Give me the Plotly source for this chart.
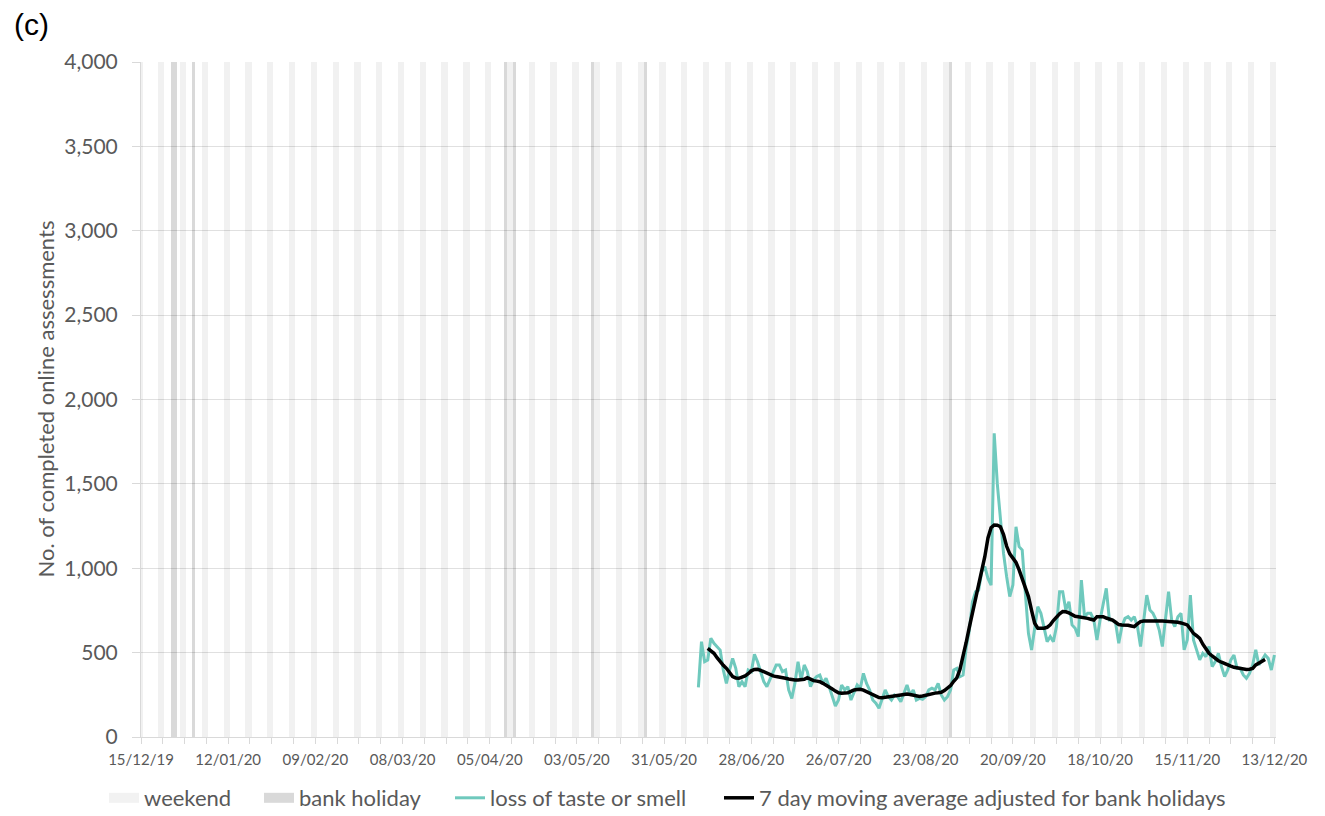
import pandas as pd
import plotly.graph_objects as go

# ---------------- data ----------------
# daily counts, 11/06/20 .. 13/12/20
taste_smell = [
    294, 565, 446, 456, 585, 555, 535, 515, 397, 318, 397, 466, 407, 298, 328, 298,
    397, 387, 490, 446, 387, 328, 298, 338, 377, 427, 427, 387, 397, 279, 229, 318,
    446, 338, 427, 387, 298, 338, 358, 367, 318, 348, 298, 239, 184, 219, 308, 279,
    298, 219, 259, 308, 289, 377, 318, 279, 219, 200, 170, 229, 279, 239, 219, 249,
    239, 209, 259, 308, 249, 279, 219, 229, 223, 239, 279, 289, 279, 318, 249, 219,
    239, 279, 397, 407, 358, 367, 530, 630, 800, 860, 870, 980, 1010, 940, 900, 1800,
    1500, 1306, 1088, 950, 832, 901, 1246, 1128, 1108, 852, 614, 516, 654, 772, 733, 654,
    565, 595, 565, 654, 861, 861, 753, 802, 664, 644, 595, 930, 713, 733, 733, 693,
    575, 693, 792, 881, 693, 693, 674, 555, 654, 703, 713, 693, 713, 654, 536, 693,
    841, 753, 733, 693, 634, 536, 693, 861, 693, 654, 713, 733, 516, 575, 841, 575,
    516, 457, 496, 476, 536, 417, 447, 496, 417, 358, 397, 457, 486, 407, 407, 368,
    348, 377, 427, 516, 427, 457, 486, 466, 397, 486,
]
taste_smell_start = "2020-06-11"

# 7 day moving average adjusted for bank holidays, 14/06/20 .. 10/12/20
moving_avg = [
    525, 510, 496, 470, 446, 425, 407, 380, 358, 350, 348, 355, 362, 375, 392, 400,
    401, 395, 387, 378, 367, 362, 358, 356, 354, 348, 344, 340, 338, 338, 340, 342,
    352, 342, 334, 331, 328, 318, 308, 298, 285, 272, 262, 259, 258, 262, 270, 279,
    281, 283, 278, 269, 258, 249, 240, 234, 233, 235, 236, 238, 240, 245, 249, 252,
    255, 252, 249, 244, 240, 243, 248, 252, 257, 260, 262, 265, 275, 289, 305, 330,
    350, 400, 470, 560, 650, 730, 810, 900, 980, 1070, 1180, 1240, 1256, 1255, 1246, 1200,
    1130, 1085, 1060, 1035, 990, 940, 885, 832, 750, 674, 645, 643, 645, 650, 665, 690,
    713, 730, 743, 742, 735, 725, 715, 712, 710, 706, 703, 698, 693, 713, 713, 713,
    705, 698, 693, 680, 666, 664, 664, 662, 658, 654, 670, 684, 687, 688, 688, 688,
    688, 688, 687, 686, 685, 684, 684, 680, 676, 670, 664, 640, 614, 600, 585, 550,
    520, 496, 480, 465, 452, 443, 437, 428, 420, 413, 409, 405, 401, 400, 402, 407,
    427, 440, 450, 460,
]
moving_avg_start = "2020-06-14"

bank_holidays = ["2019-12-25", "2019-12-26", "2020-01-01", "2020-04-10", "2020-04-13",
                 "2020-05-08", "2020-05-25", "2020-08-31"]
axis_start, axis_end = "2019-12-14", "2020-12-14"
shade_top = 4000

y_tick_vals = [0, 500, 1000, 1500, 2000, 2500, 3000, 3500, 4000]

# weekends from the calendar
all_days = pd.date_range(axis_start, axis_end, freq="D")
weekends = [d for d in all_days if d.weekday() >= 5]

taste_dates = pd.date_range(taste_smell_start, periods=len(taste_smell), freq="D")
ma_dates = pd.date_range(moving_avg_start, periods=len(moving_avg), freq="D")

DAY_MS = 86400000
FONT = "Lato"
GREY_TXT = "#595959"
AXIS_GREY = "#d9d9d9"
# the page body has an 8px margin, so the figure is 8px smaller than the window
W, H = 1317, 808
ML, MR, MT, MB = 133, 49, 54, 79
PW = W - ML - MR
PH = H - MT - MB

WEEKEND_C = "rgba(0,0,0,0.055)"
BANK_C = "rgba(0,0,0,0.15)"
TEAL = "#6fc9bd"

fig = go.Figure()
fig.add_trace(go.Bar(x=weekends, y=[shade_top] * len(weekends), width=DAY_MS,
                     marker=dict(color=WEEKEND_C, line=dict(width=0)),
                     showlegend=False, hoverinfo="skip"))
fig.add_trace(go.Bar(x=pd.to_datetime(bank_holidays), y=[shade_top] * len(bank_holidays),
                     width=DAY_MS, marker=dict(color=BANK_C, line=dict(width=0)),
                     showlegend=False, hoverinfo="skip"))
# legend keys for the shading (no data points)
fig.add_trace(go.Scatter(x=[None], y=[None], mode="lines", name="weekend",
                         line=dict(color="#f2f2f2", width=13), legend="legend"))
fig.add_trace(go.Scatter(x=[None], y=[None], mode="lines", name="bank holiday",
                         line=dict(color="#d9d9d9", width=13), legend="legend2"))
fig.add_trace(go.Scatter(x=taste_dates, y=taste_smell, mode="lines",
                         line=dict(color=TEAL, width=3),
                         name="loss of taste or smell", legend="legend3"))
fig.add_trace(go.Scatter(x=ma_dates, y=moving_avg, mode="lines",
                         line=dict(color="#000000", width=3.5),
                         name="7 day moving average adjusted for bank holidays",
                         legend="legend4"))


def leg(px_left):
    return dict(orientation="h", xref="container", yref="container",
                x=px_left / W, xanchor="left", y=(H - 790) / H, yanchor="middle",
                font=dict(family=FONT, size=22, color=GREY_TXT),
                bgcolor="rgba(0,0,0,0)", borderwidth=0, itemwidth=30)


fig.update_layout(
    width=W, height=H,
    margin=dict(l=ML, r=MR, t=MT, b=MB, autoexpand=False),
    paper_bgcolor="white", plot_bgcolor="white",
    barmode="overlay", bargap=0,
    font=dict(family=FONT, color=GREY_TXT),
    showlegend=True,
    legend=leg(96), legend2=leg(251), legend3=leg(442), legend4=leg(711),
    xaxis=dict(
        type="date", automargin=False,
        range=["2019-12-15 00:00", "2020-12-13 12:00"],
        tick0="2019-12-15", dtick=28 * DAY_MS, tickformat="%d/%m/%y",
        ticks="outside", ticklen=6, tickcolor=AXIS_GREY,
        minor=dict(tick0="2019-12-15", dtick=7 * DAY_MS, ticks="outside",
                   ticklen=6, tickcolor=AXIS_GREY, showgrid=False),
        showgrid=False, showline=True, linecolor=AXIS_GREY, linewidth=1,
        tickfont=dict(family=FONT, size=15, color=GREY_TXT),
        ticklabelstandoff=3,
        zeroline=False,
    ),
    yaxis=dict(
        range=[0, 4000], tickvals=y_tick_vals, tickformat=",", automargin=False,
        ticks="outside", ticklen=8, tickcolor=AXIS_GREY,
        showgrid=True, gridcolor="#e0e0e0", gridwidth=1,
        showline=True, linecolor=AXIS_GREY, linewidth=1,
        tickfont=dict(family=FONT, size=21, color=GREY_TXT),
        ticklabelstandoff=10,
        zeroline=False,
    ),
    annotations=[
        dict(text="(c)", xref="paper", yref="paper",
             x=(4 - ML) / PW, y=(MT + PH - 17) / PH, xanchor="left",
             yanchor="middle", showarrow=False,
             font=dict(family="Liberation Sans", size=30, color="black")),
        dict(text="No. of completed online assessments", xref="paper", yref="paper",
             x=(37 - ML) / PW, y=0.5, xanchor="center", yanchor="middle",
             textangle=-90, showarrow=False,
             font=dict(family=FONT, size=22, color=GREY_TXT)),
    ],
)

fig.write_html("out.html")
